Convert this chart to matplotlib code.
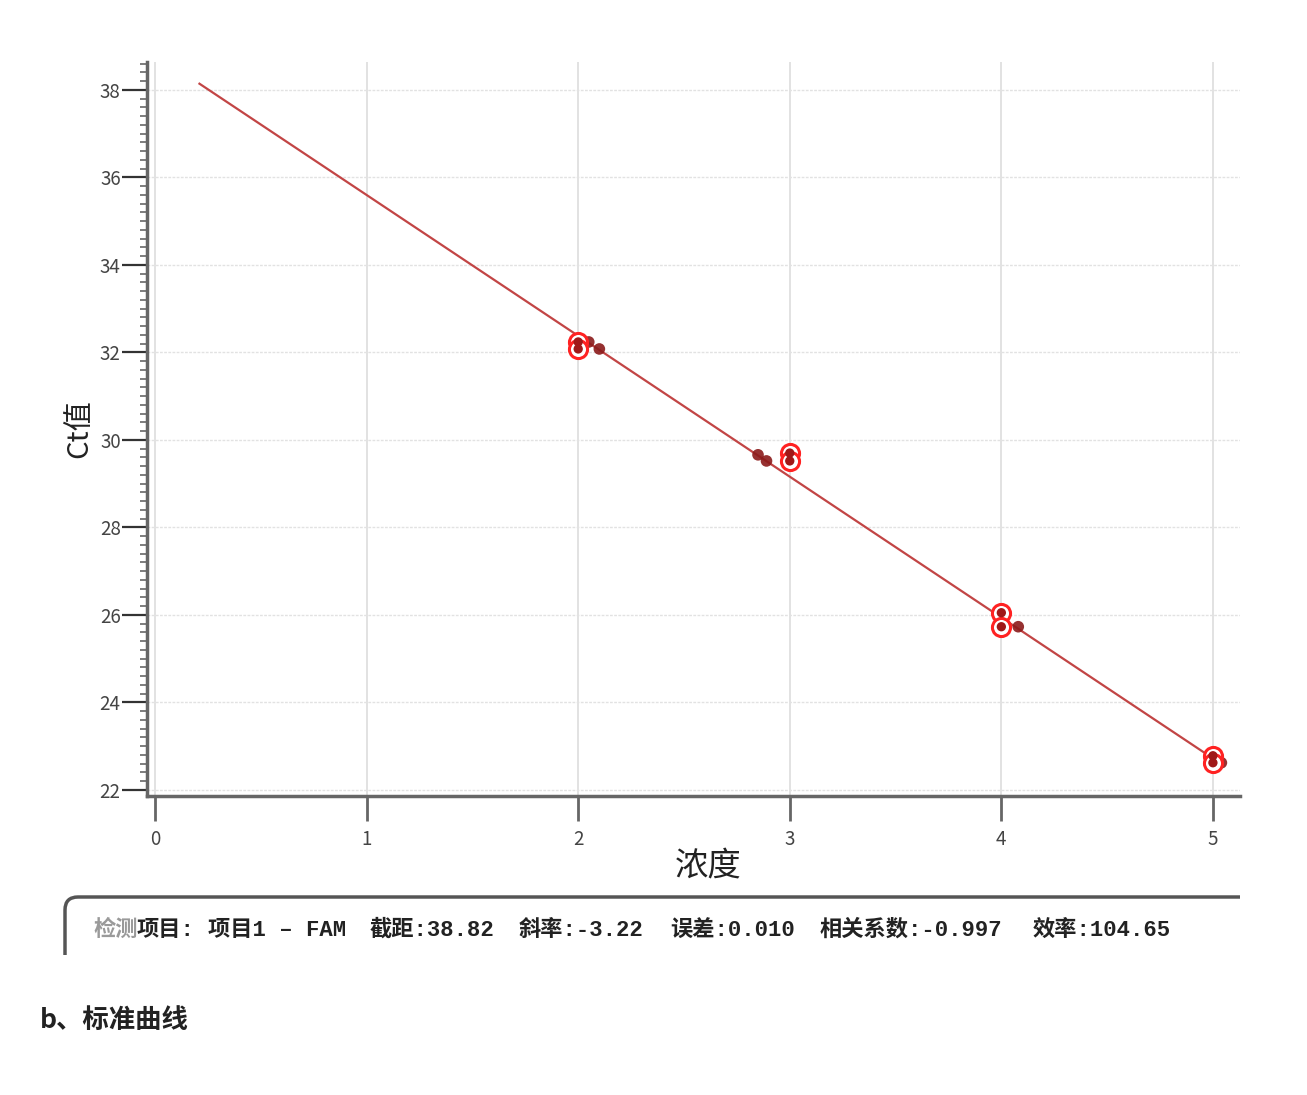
import matplotlib
matplotlib.use("Agg")
import matplotlib.pyplot as plt
import numpy as np
from matplotlib.path import Path
from matplotlib.patches import PathPatch
from matplotlib.ticker import MultipleLocator

plt.rcParams['font.family'] = ['Noto Sans CJK SC', 'DejaVu Sans']

# data
std_x = [2, 2, 3, 3, 4, 4, 5, 5]
std_y = [32.24, 32.08, 29.70, 29.52, 26.05, 25.73, 22.78, 22.62]
unk_x = [2.05, 2.10, 2.85, 2.89, 4.08, 5.04]
unk_y = [32.24, 32.08, 29.66, 29.52, 25.73, 22.62]
intercept = 38.82
slope = -3.22
line_x = [0.21, 5.0]
info_gray = "检测"
info_parts = ["项目:", "项目1 – FAM", "截距:38.82", "斜率:-3.22", "误差:0.010", "相关系数:-0.997", "效率:104.65"]
xlabel = "浓度"
ylabel = "Ct值"
caption = "b、标准曲线"

W, H = 1307, 1095
fig = plt.figure(figsize=(W/100, H/100), dpi=100)
def fx(px): return px / W
def fy(py): return 1 - py / H

ax = fig.add_axes([fx(147), fy(796), fx(1240) - fx(147), fy(62) - fy(796)])
ax.set_xlim(-0.038, 5.128)
ax.set_ylim(21.86, 38.64)

ax.xaxis.set_major_locator(MultipleLocator(1))
ax.yaxis.set_major_locator(MultipleLocator(2))
ax.yaxis.set_minor_locator(MultipleLocator(0.2))
ax.grid(True, which='major', axis='x', color='#dddddd', lw=1.2)
ax.grid(True, which='major', axis='y', color='#e2e2e2', lw=1.0, ls=(0, (2, 1)))
ax.set_axisbelow(True)

for s in ['top', 'right']:
    ax.spines[s].set_visible(False)
ax.spines['left'].set_color('#666666')
ax.spines['left'].set_linewidth(2.5)
ax.spines['bottom'].set_color('#666666')
ax.spines['bottom'].set_linewidth(2.5)

ax.tick_params(axis='y', which='major', length=18, width=1.6, color='#333333',
               labelsize=13.5, labelcolor='#444444', pad=1)
ax.tick_params(axis='y', which='minor', length=5, width=1.2, color='#666666')
ax.tick_params(axis='x', which='major', length=18, width=2, color='#666666',
               labelsize=13.5, labelcolor='#444444', pad=6, direction='out')

# line
lx = np.array(line_x)
ax.plot(lx, intercept + slope * lx, color='#c24545', lw=1.6, zorder=2)

# unknown points (dark)
ax.scatter(unk_x, unk_y, s=70, color='#8b1a1a', edgecolors='none', zorder=3, alpha=0.9)
# standards: red ring, white gap, dark red centre
ax.scatter(std_x, std_y, s=170, facecolors='white', edgecolors='#ff2222', linewidths=2.2, zorder=4)
ax.scatter(std_x, std_y, s=45, color='#a01818', edgecolors='none', zorder=5)

ax.set_xlabel(xlabel, fontsize=24, color='#222222')
ax.xaxis.set_label_coords((708 - 147) / 1093, -(866 - 796) / 734, transform=ax.transAxes)
ax.xaxis.label.set_va('center')
ax.set_ylabel(ylabel, fontsize=21, color='#222222', labelpad=4)

# info box outline
verts = [(fx(65), fy(955)), (fx(65), fy(910)), (fx(65), fy(897)), (fx(78), fy(897)), (fx(1240), fy(897))]
codes = [Path.MOVETO, Path.LINETO, Path.CURVE3, Path.CURVE3, Path.LINETO]
fig.add_artist(PathPatch(Path(verts, codes), transform=fig.transFigure,
                         facecolor='none', edgecolor='#555555', lw=2.5))

mono = ['Liberation Mono', 'Noto Sans CJK SC']
fig.text(fx(93), fy(930), info_gray, fontsize=16, fontweight='bold', color='#9a9a9a',
         va='center', ha='left', family=mono)
starts = [137, 208, 370, 519, 670, 820, 1033]
for x0, t in zip(starts, info_parts):
    fig.text(fx(x0), fy(930), t, fontsize=16, fontweight='bold', color='#222222',
             va='center', ha='left', family=mono)

fig.text(fx(40), fy(1020), caption, fontsize=19, fontweight='bold', color='#222222',
         va='center', ha='left')

fig.savefig("out.png", dpi=100)
